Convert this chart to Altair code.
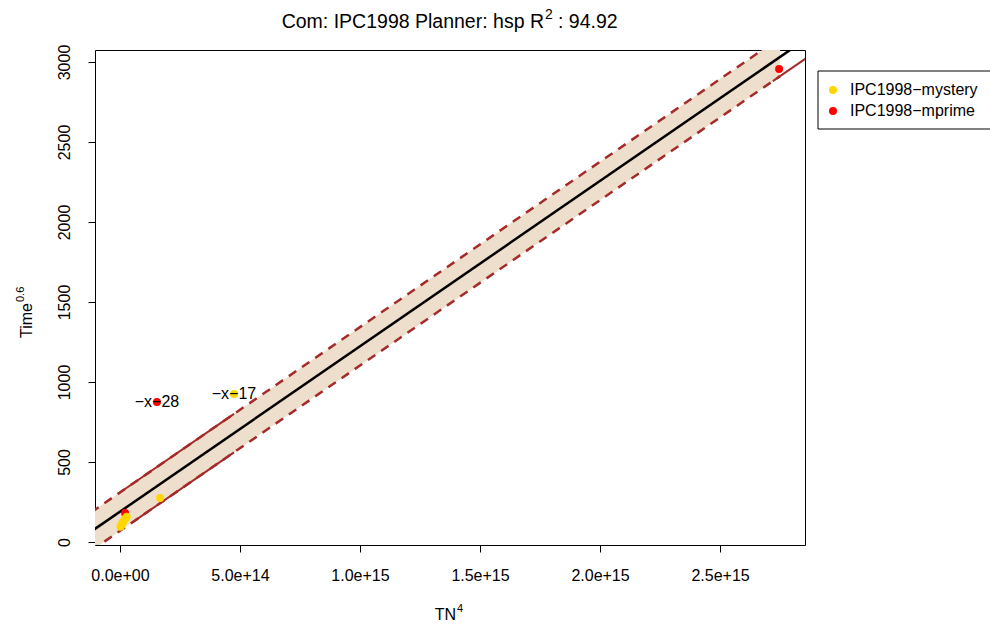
import altair as alt
import pandas as pd

FONT = "Liberation Sans"
BASE = 16

# ---- observations: x = TN^4, y = Time^0.6 ----
mystery_x = [4.75e14, 1.67e14, 2.8e13, 2.2e13, 1.5e13, 1.0e13, 5e12, 2e12]
mystery_y = [925, 275, 158, 145, 130, 118, 105, 96]
mprime_x = [1.54e14, 2.1e13, 2.746e15]
mprime_y = [875, 181, 2956]

series_names = ["IPC1998\u2212mystery", "IPC1998\u2212mprime"]
series_colors = ["#FFD700", "#FF0000"]

# annotated outliers
label_x = [1.54e14, 4.75e14]
label_y = [875, 925]
label_text = ["\u2212x\u221228", "\u2212x\u221217"]

# fitted regression line (end points)
fit_x = [-1.2e14, 2.9e15]
fit_y = [65.7, 3186.6]

# prediction band (end points)
band_x = [-1.2e14, 2.75e15]
band_lo = [-54.3, 2911.6]
band_hi = [185.7, 3151.6]

# solid interval segments
seg_upper_x = [1.0e13, 4.75e14]
seg_upper_y = [320.0, 800.6]
seg_lower_x = [5.0e13, 4.75e14]
seg_lower_y = [121.4, 560.6]
seg_right_x = [2.72e15, 2.9e15]
seg_right_y = [2880.5, 3066.6]

# axes
x_ticks = [0, 5e14, 1e15, 1.5e15, 2e15, 2.5e15]
x_tick_labels = ["0.0e+00", "5.0e+14", "1.0e+15", "1.5e+15", "2.0e+15", "2.5e+15"]
y_ticks = [0, 500, 1000, 1500, 2000, 2500, 3000]
x_domain = [-1.0417e14, 2.854e15]
y_domain = [-18.75, 3075]

W, H = 710, 495

label_expr = "''"
for v, lab in reversed(list(zip(x_ticks, x_tick_labels))):
    label_expr = f"datum.value == {v!r} ? '{lab}' : {label_expr}"

x_scale = alt.Scale(domain=x_domain, nice=False, zero=False)
y_scale = alt.Scale(domain=y_domain, nice=False, zero=False)

x_axis = alt.Axis(values=x_ticks, labelExpr=label_expr, title=None, grid=False,
                  domain=False, ticks=True, tickSize=7, tickColor="black",
                  tickWidth=1, labelFont=FONT, labelFontSize=BASE,
                  labelColor="black", labelPadding=15, labelFlush=False,
                  labelOverlap=False)
y_axis = alt.Axis(values=y_ticks, format="d", title=None, grid=False, domain=False,
                  ticks=True, tickSize=7, tickColor="black", tickWidth=1,
                  labelFont=FONT, labelFontSize=BASE, labelColor="black",
                  labelAngle=270, labelAlign="center", labelBaseline="middle",
                  labelPadding=24, labelFlush=False, labelOverlap=False)

band_df = pd.DataFrame({"x": band_x, "lo": band_lo, "hi": band_hi})
band = alt.Chart(band_df).mark_area(color="#EEDFCC", clip=True).encode(
    x=alt.X("x:Q", scale=x_scale, axis=x_axis, title=None),
    y=alt.Y("lo:Q", scale=y_scale, axis=y_axis, title=None),
    y2="hi:Q",
)

edges_df = pd.concat([
    pd.DataFrame({"x": band_x, "y": band_hi, "part": "upper"}),
    pd.DataFrame({"x": band_x, "y": band_lo, "part": "lower"}),
])
edges = alt.Chart(edges_df).mark_line(
    color="#A52A2A", strokeWidth=2.5, strokeDash=[9, 7], clip=True
).encode(x=alt.X("x:Q", title=None), y=alt.Y("y:Q", title=None), detail="part:N")

seg_df = pd.concat([
    pd.DataFrame({"x": seg_upper_x, "y": seg_upper_y, "part": "a"}),
    pd.DataFrame({"x": seg_lower_x, "y": seg_lower_y, "part": "b"}),
    pd.DataFrame({"x": seg_right_x, "y": seg_right_y, "part": "c"}),
])
segs = alt.Chart(seg_df).mark_line(color="#A52A2A", strokeWidth=2, clip=True).encode(
    x=alt.X("x:Q", title=None), y=alt.Y("y:Q", title=None), detail="part:N")

fit_df = pd.DataFrame({"x": fit_x, "y": fit_y})
fit = alt.Chart(fit_df).mark_line(color="black", strokeWidth=2.5, clip=True).encode(
    x=alt.X("x:Q", title=None), y=alt.Y("y:Q", title=None))

pts_df = pd.concat([
    pd.DataFrame({"x": mprime_x, "y": mprime_y, "series": series_names[1]}),
    pd.DataFrame({"x": mystery_x, "y": mystery_y, "series": series_names[0]}),
])
points = alt.Chart(pts_df).mark_circle(size=64, opacity=1).encode(
    x=alt.X("x:Q", title=None), y=alt.Y("y:Q", title=None),
    color=alt.Color("series:N", scale=alt.Scale(domain=series_names, range=series_colors),
                    legend=None),
)

lab_df = pd.DataFrame({"x": label_x, "y": label_y, "t": label_text})
labels = alt.Chart(lab_df).mark_text(font=FONT, fontSize=BASE, color="black",
                                     baseline="middle", align="center").encode(
    x=alt.X("x:Q", title=None), y=alt.Y("y:Q", title=None), text="t:N")

one = alt.Data(values=[{}])


def txt(s, x, y, size=BASE, align="left", angle=0, baseline="alphabetic"):
    return alt.Chart(one).mark_text(text=s, font=FONT, fontSize=size, color="black",
                                    align=align, baseline=baseline, angle=angle).encode(
        x=alt.value(x), y=alt.value(y))


# title:  Com: IPC1998 Planner: hsp R^2 : 94.92
title_parts = [
    txt("Com: IPC1998 Planner: hsp R", 449, -22, size=19.5, align="right"),
    txt("2", 450, -31, size=14),
    txt(": 94.92", 463, -22, size=19.5),
]
# axis titles
axis_titles = [
    txt("TN", 361, 570, align="right"),
    txt("4", 362, 562, size=11),
    txt("Time", -63, 288, angle=270),
    txt("0.6", -71, 252, size=11, angle=270),
]

# legend box
legend_box = alt.Chart(one).mark_rect(fill="white", stroke="black", strokeWidth=1).encode(
    x=alt.value(723), x2=alt.value(910), y=alt.value(21), y2=alt.value(79))
legend_items = []
for i, (name, col) in enumerate(zip(series_names, series_colors)):
    yy = 40 + 21 * i
    legend_items.append(alt.Chart(one).mark_circle(size=64, opacity=1, color=col).encode(
        x=alt.value(738), y=alt.value(yy)))
    legend_items.append(txt(name, 755, yy, baseline="middle"))

chart = alt.layer(
    band, edges, segs, fit, points, labels,
    *title_parts, *axis_titles, legend_box, *legend_items,
).properties(
    width=W, height=H,
    autosize=alt.AutoSizeParams(type="none"),
    padding={"left": 95, "top": 50, "right": 185, "bottom": 84},
    background="white",
).configure_view(stroke="black", strokeWidth=1)

chart.save("out.html", embed_options={"renderer": "svg", "actions": False})
